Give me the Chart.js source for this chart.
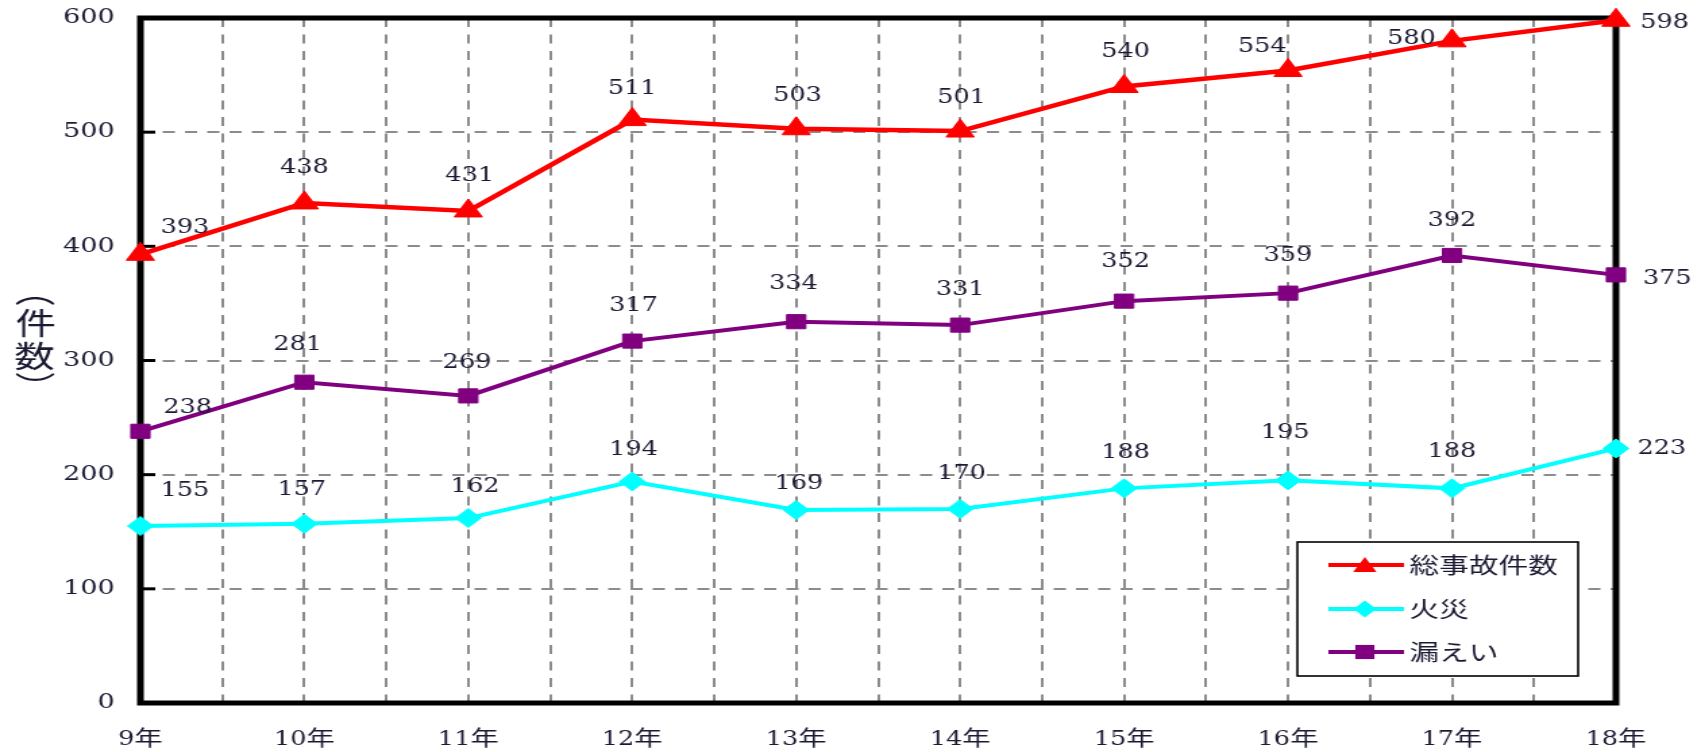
<!DOCTYPE html>
<html lang="ja">
<head>
<meta charset="utf-8">
<title>事故件数の推移</title>
<script src="https://cdn.jsdelivr.net/npm/chart.js@4"></script>
<style>
  html, body { margin: 0; padding: 0; background: #fff; overflow: hidden; }
  /* the chart is laid out narrow and widened horizontally */
  #stage { width: 1261px; height: 752px; transform: scaleX(1.35); transform-origin: 0 0; }
</style>
</head>
<body>
<div id="stage"><canvas id="c" width="1261" height="752"></canvas></div>
<script>
// 年度ラベル
const categories = ['9年', '10年', '11年', '12年', '13年', '14年', '15年', '16年', '17年', '18年'];
// 件数
const totalAccidents = [393, 438, 431, 511, 503, 501, 540, 554, 580, 598];
const fires          = [155, 157, 162, 194, 169, 170, 188, 195, 188, 223];
const leaks          = [238, 281, 269, 317, 334, 331, 352, 359, 392, 375];
const seriesNames = ['総事故件数', '火災', '漏えい'];
const yTicks = [0, 100, 200, 300, 400, 500, 600];

// value label placement relative to each point (px)
const totalLabelShift = [[33, -27], [0, -35], [1, -35], [0, -31], [1, -33], [1, -33], [1, -35], [-19, -24], [-30, -2], [36, 2]];
const fireLabelShift  = [[33, -35], [-2, -34], [5, -32], [1, -32], [2, -27], [1, -35], [1, -36], [-2, -48], [0, -37], [34, 0]];
const leakLabelShift  = [[35, -24], [-5, -38], [-1, -33], [1, -36], [-2, -38], [0, -36], [1, -40], [0, -38], [0, -35], [38, 4]];

const TEXT = '#1a1a33';
const NUM = "'DejaVu Serif Condensed', 'DejaVu Serif', 'Noto Sans CJK JP', serif";
const AXIS_NUM = "'DejaVu Serif', 'Noto Sans CJK JP', serif";
const CJK = "'Noto Sans CJK JP', sans-serif";

const toPoints = arr => arr.map((v, i) => ({ x: i, y: v }));

function markerPath(ctx, style, x, y, r) {
  ctx.beginPath();
  if (style === 'triangle') {
    for (let k = 0; k < 3; k++) {
      const a = k * 2 * Math.PI / 3;
      const px = x + Math.sin(a) * r, py = y - Math.cos(a) * r;
      k ? ctx.lineTo(px, py) : ctx.moveTo(px, py);
    }
  } else if (style === 'rectRot') {
    ctx.moveTo(x - r, y); ctx.lineTo(x, y - r); ctx.lineTo(x + r, y); ctx.lineTo(x, y + r);
  } else {
    const s = r * Math.SQRT1_2;
    ctx.rect(x - s, y - s, 2 * s, 2 * s);
  }
  ctx.closePath();
}

// draw a glyph with its inked area centred on (x, y)
function inkCentered(ctx, ch, x, y) {
  const m = ctx.measureText(ch);
  const left = m.actualBoundingBoxLeft, right = m.actualBoundingBoxRight;
  const asc = m.actualBoundingBoxAscent, desc = m.actualBoundingBoxDescent;
  ctx.fillText(ch, x - (right - left) / 2, y + (asc - desc) / 2);
}

// outer frame, inward ticks on the value axis, and the vertical axis title
const frame = {
  id: 'frame',
  beforeDatasetsDraw(chart) {
    const { ctx, chartArea: a, scales: { y } } = chart;
    ctx.save();
    ctx.strokeStyle = '#000';
    ctx.lineWidth = 5;
    ctx.strokeRect(a.left, a.top, a.right - a.left, a.bottom - a.top);
    ctx.lineWidth = 3;
    yTicks.forEach(v => {
      const py = y.getPixelForValue(v);
      ctx.beginPath(); ctx.moveTo(a.left, py); ctx.lineTo(a.left + 11, py); ctx.stroke();
    });
    ctx.restore();
  },
  afterDraw(chart) {
    const ctx = chart.ctx;
    const cx = 26;
    ctx.save();
    ctx.fillStyle = TEXT;
    ctx.textAlign = 'left';
    ctx.textBaseline = 'alphabetic';
    ctx.font = `30px ${CJK}`;
    inkCentered(ctx, '︵', cx, 301);
    inkCentered(ctx, '件', cx, 323);
    inkCentered(ctx, '数', cx, 356);
    inkCentered(ctx, '︶', cx, 376);
    ctx.restore();
  }
};

// value labels and the boxed legend
const annotate = {
  id: 'annotate',
  afterDatasetsDraw(chart) {
    const ctx = chart.ctx;
    ctx.save();
    ctx.fillStyle = TEXT;
    ctx.font = `21px ${NUM}`;
    ctx.textAlign = 'center';
    ctx.textBaseline = 'middle';
    chart.data.datasets.forEach((ds, di) => {
      const meta = chart.getDatasetMeta(di);
      meta.data.forEach((el, i) => {
        const [dx, dy] = ds.labelShift[i];
        ctx.fillText(String(ds.data[i].y), el.x + dx, el.y + dy);
      });
    });

    // legend
    const bx = 961, by = 542, bw = 208, bh = 134;
    ctx.fillStyle = '#fff';
    ctx.fillRect(bx, by, bw, bh);
    ctx.strokeStyle = '#000';
    ctx.lineWidth = 1.6;
    ctx.strokeRect(bx, by, bw, bh);
    const rows = [565, 609, 652];
    chart.data.datasets.forEach((ds, di) => {
      const ry = rows[di];
      ctx.strokeStyle = ds.borderColor;
      ctx.lineWidth = 4;
      ctx.beginPath(); ctx.moveTo(984, ry); ctx.lineTo(1040, ry); ctx.stroke();
      ctx.fillStyle = ds.borderColor;
      const r = ds.pointStyle === 'triangle' ? 10 : ds.pointStyle === 'rectRot' ? 8.5 : 10;
      markerPath(ctx, ds.pointStyle, 1011, ds.pointStyle === 'triangle' ? ry + 2 : ry, r);
      ctx.fill();
      ctx.fillStyle = TEXT;
      ctx.font = `22px ${CJK}`;
      ctx.textAlign = 'left';
      ctx.fillText(ds.label, 1044, ry);
    });
    ctx.restore();
  }
};

const gridStyle = { color: '#8c8c8c', lineWidth: 2, drawTicks: false };
const borderStyle = { display: false, dash: [9, 7.5] };

new Chart(document.getElementById('c'), {
  type: 'line',
  data: {
    datasets: [
      {
        label: seriesNames[0], data: toPoints(totalAccidents), labelShift: totalLabelShift,
        borderColor: '#ff0000', backgroundColor: '#ff0000', borderWidth: 4.5,
        pointStyle: 'triangle', pointRadius: 12, pointBorderWidth: 1, pointBackgroundColor: '#ff0000'
      },
      {
        label: seriesNames[1], data: toPoints(fires), labelShift: fireLabelShift,
        borderColor: '#00ffff', backgroundColor: '#00ffff', borderWidth: 4,
        pointStyle: 'rectRot', pointRadius: 9.5, pointBorderWidth: 1, pointBackgroundColor: '#00ffff'
      },
      {
        label: seriesNames[2], data: toPoints(leaks), labelShift: leakLabelShift,
        borderColor: '#800080', backgroundColor: '#800080', borderWidth: 4,
        pointStyle: 'rect', pointRadius: 10, pointBorderWidth: 1, pointBackgroundColor: '#800080'
      }
    ]
  },
  options: {
    responsive: false,
    devicePixelRatio: 1,
    animation: false,
    clip: false,
    layout: { autoPadding: false, padding: { top: 18, right: 64, left: 0, bottom: 0 } },
    elements: { line: { tension: 0 } },
    plugins: { legend: { display: false }, tooltip: { enabled: false } },
    scales: {
      x: {
        type: 'linear', min: 0, max: categories.length - 1,
        afterFit: s => { s.height = 49; s.paddingLeft = 0; s.paddingRight = 0; },
        ticks: {
          stepSize: 0.5, autoSkip: false, maxRotation: 0, padding: 24,
          color: TEXT, font: { family: NUM, size: 21 },
          callback: v => Number.isInteger(v) ? categories[v] : ''
        },
        grid: gridStyle, border: borderStyle
      },
      y: {
        min: 0, max: 600,
        afterFit: s => { s.width = 104; s.paddingTop = 0; s.paddingBottom = 0; },
        afterBuildTicks: s => { s.ticks = yTicks.map(v => ({ value: v })); },
        ticks: { padding: 19, color: TEXT, font: { family: AXIS_NUM, size: 20 } },
        grid: gridStyle, border: borderStyle
      }
    }
  },
  plugins: [frame, annotate]
});
</script>
</body>
</html>
